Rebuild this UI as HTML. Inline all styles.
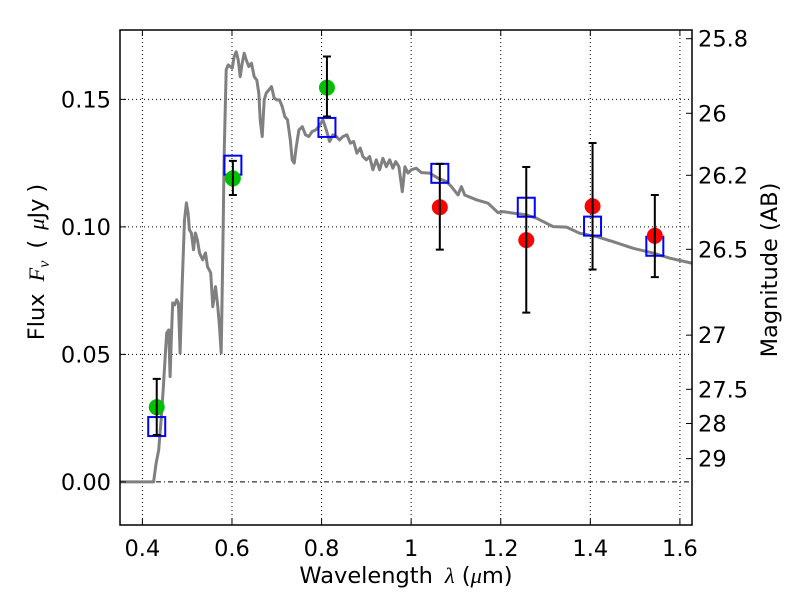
<!DOCTYPE html>
<html><head><meta charset="utf-8"><style>
body{margin:0;background:#fff;}
svg text{font-family:"DejaVu Sans","Liberation Sans",sans-serif;fill:#000;}
</style></head><body>
<svg id="chart" width="800" height="600" xmlns="http://www.w3.org/2000/svg">
<rect x="0" y="0" width="800" height="600" fill="#fff"/>
<g id="grid"></g>
<g id="model"></g>
<g id="marks"></g>
<g id="axes"></g>
</svg>
<script>
const xTicks = [0.4, 0.6, 0.8, 1.0, 1.2, 1.4, 1.6];
const xTickLabels = ["0.4", "0.6", "0.8", "1", "1.2", "1.4", "1.6"];
const yTicks = [0.00, 0.05, 0.10, 0.15];
const yTickLabels = ["0.00", "0.05", "0.10", "0.15"];
const magTicks = [25.8, 26, 26.2, 26.5, 27, 27.5, 28, 29];
const magTickLabels = ["25.8", "26", "26.2", "26.5", "27", "27.5", "28", "29"];

const specLam = [0.35,0.425,0.4306,0.4364,0.4418,0.4469,0.4514,0.4543,0.4588,0.4619,0.4648,0.4677,0.4722,0.4766,0.4804,0.4842,0.4887,0.4939,0.4983,0.5021,0.5050,0.5095,0.5140,0.5184,0.5229,0.5274,0.5347,0.5408,0.5453,0.5526,0.5571,0.5631,0.5683,0.5721,0.5759,0.5794,0.5826,0.5870,0.5915,0.5960,0.6004,0.6049,0.6094,0.6139,0.6183,0.6228,0.6273,0.6317,0.6375,0.6436,0.6496,0.6554,0.6599,0.6630,0.6675,0.6720,0.6764,0.6822,0.6883,0.6943,0.7001,0.7061,0.7122,0.7180,0.7240,0.7301,0.7345,0.7390,0.7435,0.7493,0.7569,0.7642,0.7716,0.7792,0.7866,0.7940,0.8029,0.8105,0.8179,0.8253,0.8328,0.8402,0.8476,0.8565,0.8641,0.8715,0.8789,0.8865,0.8923,0.8999,0.9073,0.9146,0.9222,0.9296,0.9370,0.9446,0.9520,0.9593,0.9654,0.9727,0.9803,0.9861,0.9929,1.0004,1.0116,1.0228,1.0413,1.0599,1.0787,1.0898,1.1046,1.1122,1.1196,1.1457,1.1716,1.1940,1.2051,1.2275,1.2574,1.2798,1.3169,1.3468,1.3765,1.4139,1.4510,1.4957,1.5403,1.5777,1.6261];
const specFlux = [0,0,0.0073,0.0125,0.0243,0.0374,0.0506,0.0584,0.0596,0.0413,0.0570,0.0702,0.0694,0.0714,0.0702,0.0506,0.0766,0.1027,0.1094,0.1055,0.0988,0.0976,0.0910,0.0976,0.0949,0.0898,0.0871,0.0898,0.0844,0.0820,0.0687,0.0766,0.0687,0.0609,0.0506,0.0898,0.1290,0.1616,0.1635,0.1629,0.1622,0.1668,0.1687,0.1655,0.1589,0.1642,0.1681,0.1655,0.1629,0.1642,0.1589,0.1576,0.1524,0.1420,0.1354,0.1498,0.1524,0.1537,0.1550,0.1505,0.1498,0.1498,0.1472,0.1433,0.1420,0.1341,0.1263,0.1250,0.1315,0.1380,0.1393,0.1361,0.1354,0.1374,0.1380,0.1393,0.1420,0.1380,0.1335,0.1361,0.1354,0.1341,0.1354,0.1361,0.1328,0.1335,0.1289,0.1309,0.1276,0.1263,0.1276,0.1224,0.1263,0.1224,0.1269,0.1236,0.1263,0.1230,0.1256,0.1236,0.1138,0.1236,0.1211,0.1224,0.1230,0.1213,0.1211,0.1191,0.1178,0.1158,0.1125,0.1158,0.1125,0.1106,0.1093,0.1056,0.1060,0.1054,0.1047,0.1034,0.1001,0.0999,0.0975,0.0962,0.0942,0.0916,0.0897,0.0877,0.0858];

const bandLam = [0.432, 0.602, 0.812, 1.064, 1.257, 1.405, 1.544];
const obsFlux = [0.0293, 0.119, 0.1546, 0.1077, 0.0948, 0.1081, 0.0965];
const obsErrHi = [0.0404, 0.1259, 0.1668, 0.1247, 0.1235, 0.1329, 0.1125];
const obsErrLo = [0.0184, 0.1125, 0.1433, 0.0911, 0.0664, 0.0833, 0.0803];
const obsKind = ["green","green","green","red","red","red","red"];
const modelFlux = [0.0217, 0.1242, 0.139, 0.121, 0.1077, 0.1003, 0.0924];

const L=120, R=692, T=30, B=525;
const xMin=0.35, xMax=1.627, yMin=-0.0169, yMax=0.1772;
const xs = v => L + (v-xMin)/(xMax-xMin)*(R-L);
const ys = v => B - (v-yMin)/(yMax-yMin)*(B-T);
const magToFlux = m => Math.pow(10, (23.9-m)/2.5);
const NS="http://www.w3.org/2000/svg";
function mk(tag, attrs, parent){const e=document.createElementNS(NS,tag);for(const k in attrs)e.setAttribute(k,attrs[k]);parent.appendChild(e);return e;}
const grid=document.getElementById('grid'), model=document.getElementById('model'), marks=document.getElementById('marks'), axes=document.getElementById('axes');
const FS=22.5;

xTicks.forEach((t,i)=>{
  const g=mk('line',{x1:xs(t),x2:xs(t),y1:T,y2:B,stroke:'#000','stroke-width':1,'stroke-dasharray':'1,3'},grid);
  
  
  const tk=mk('line',{x1:xs(t),x2:xs(t),y1:B,y2:B-6,stroke:'#000','stroke-width':1},axes);
  
  
  const tk2=mk('line',{x1:xs(t),x2:xs(t),y1:T,y2:T+6,stroke:'#000','stroke-width':1},axes);
  
  
  const lb=mk('text',{x:xs(t),y:B+31,'text-anchor':'middle','font-size':FS},axes);
  lb.textContent=xTickLabels[i];
  
  
});
yTicks.forEach((t,i)=>{
  const g=mk('line',{x1:L,x2:R,y1:ys(t),y2:ys(t),stroke:'#000','stroke-width':1,'stroke-dasharray':t===0?'5,3,1,3':'1,3'},grid);
  
  
  const tk=mk('line',{x1:L,x2:L+6,y1:ys(t),y2:ys(t),stroke:'#000','stroke-width':1},axes);
  
  
  const lb=mk('text',{x:L-9,y:ys(t)+8,'text-anchor':'end','font-size':FS},axes);
  lb.textContent=yTickLabels[i];
  
  
});
magTicks.forEach((m,i)=>{
  const y=ys(magToFlux(m));
  const tk=mk('line',{x1:R-6,x2:R,y1:y,y2:y,stroke:'#000','stroke-width':1},axes);
  
  
  const lb=mk('text',{x:R+6,y:y+8,'text-anchor':'start','font-size':FS},axes);
  lb.textContent=magTickLabels[i];
  
  
});

const d=specLam.map((v,i)=>(i?'L':'M')+xs(v).toFixed(1)+','+ys(specFlux[i]).toFixed(1)).join(' ');
const sp=mk('path',{d:d,fill:'none',stroke:'#808080','stroke-width':3,'stroke-linejoin':'round'},model);



bandLam.forEach((v,i)=>{
  const x=xs(v);
  const sq=mk('rect',{x:x-8.5,y:ys(modelFlux[i])-9.5,width:17,height:19,fill:'none',stroke:'#0000ff','stroke-width':2},marks);
  
  
  const c=mk('circle',{cx:x,cy:ys(obsFlux[i]),r:8,fill:obsKind[i]==='green'?'#00bf00':'#ff0000'},marks);
  
  
  const eb=mk('path',{d:`M${x},${ys(obsErrHi[i])}L${x},${ys(obsErrLo[i])}M${x-4},${ys(obsErrHi[i])}L${x+4},${ys(obsErrHi[i])}M${x-4},${ys(obsErrLo[i])}L${x+4},${ys(obsErrLo[i])}`,stroke:'#000','stroke-width':2,fill:'none'},marks);
  
  
});

const fr=mk('rect',{x:L,y:T,width:R-L,height:B-T,fill:'none',stroke:'#000','stroke-width':1.5},axes);


const xl=mk('text',{x:406,y:583,'text-anchor':'middle','font-size':FS},axes);
xl.innerHTML='Wavelength<tspan dx="12" font-family="Liberation Serif" font-style="italic">λ</tspan> (<tspan font-family="Liberation Serif" font-style="italic">μ</tspan>m)';


const yl=mk('text',{x:0,y:0,'text-anchor':'middle','font-size':FS,transform:'translate(44,262) rotate(-90)'},axes);
yl.innerHTML='Flux<tspan dx="12" font-family="Liberation Serif" font-style="italic">F<tspan font-size="16" dy="5">ν</tspan></tspan><tspan dy="-5" dx="12">(</tspan><tspan dx="10" font-family="Liberation Serif" font-style="italic">μ</tspan>Jy<tspan dx="6">)</tspan>';


const ml=mk('text',{x:0,y:0,'text-anchor':'middle','font-size':FS,transform:'translate(777,270) rotate(-90)'},axes);
ml.textContent='Magnitude (AB)';


</script>
</body></html>
